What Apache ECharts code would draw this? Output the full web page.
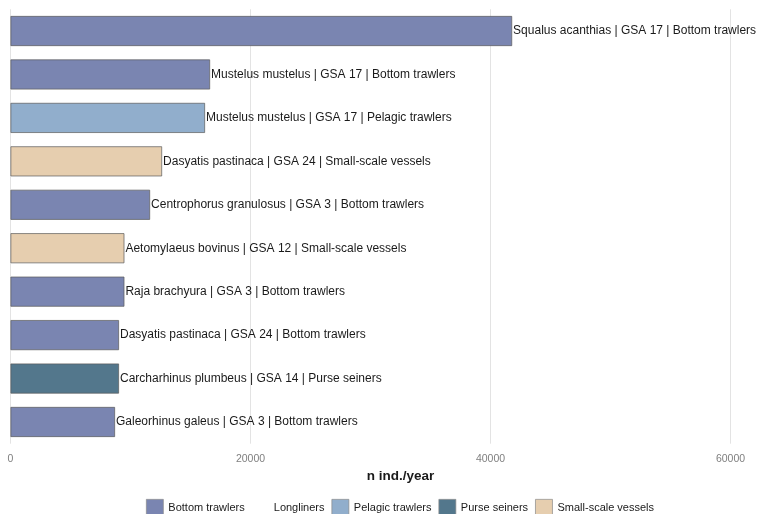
<!DOCTYPE html>
<html><head><meta charset="utf-8">
<script src="https://cdn.jsdelivr.net/npm/echarts@6/dist/echarts.min.js"></script>
<style>html,body{margin:0;padding:0;background:#fff}#c{width:759px;height:514px}</style>
</head><body><div id="c"></div>
<script>
const categories = [
  "Squalus acanthias | GSA 17 | Bottom trawlers",
  "Mustelus mustelus | GSA 17 | Bottom trawlers",
  "Mustelus mustelus | GSA 17 | Pelagic trawlers",
  "Dasyatis pastinaca | GSA 24 | Small-scale vessels",
  "Centrophorus granulosus | GSA 3 | Bottom trawlers",
  "Aetomylaeus bovinus | GSA 12 | Small-scale vessels",
  "Raja brachyura | GSA 3 | Bottom trawlers",
  "Dasyatis pastinaca | GSA 24 | Bottom trawlers",
  "Carcharhinus plumbeus | GSA 14 | Purse seiners",
  "Galeorhinus galeus | GSA 3 | Bottom trawlers"
];
const values = [41800, 16630, 16210, 12630, 11630, 9490, 9490, 9040, 9040, 8710];
const fleetOfBar = ["Bottom trawlers","Bottom trawlers","Pelagic trawlers","Small-scale vessels","Bottom trawlers","Small-scale vessels","Bottom trawlers","Bottom trawlers","Purse seiners","Bottom trawlers"];
const fleets = ["Bottom trawlers","Longliners","Pelagic trawlers","Purse seiners","Small-scale vessels"];
const fleetColors = ["#7A85B1","#FFFFFF","#91AECC","#53778C","#E6CEAF"];
const xTicks = [0, 20000, 40000, 60000];

const FONT = 'Liberation Sans, Arial, sans-serif';
const chart = echarts.init(document.getElementById('c'));
const series = fleets.map((f, i) => ({
  name: f,
  type: 'bar',
  stack: 'all',
  barWidth: 30,
  itemStyle: { color: fleetColors[i], borderColor: f === 'Longliners' ? 'rgba(0,0,0,0)' : '#5a5a5a', borderWidth: f === 'Longliners' ? 0 : 0.7 },
  label: {
    show: true, position: 'right', distance: 1,
    color: '#1a1a1a', fontSize: 12, fontFamily: FONT,
    formatter: p => p.name
  },
  data: values.map((v, j) => fleetOfBar[j] === f ? v : '-')
}));
chart.setOption({
  animation: false,
  grid: { left: 10.5, right: 4.5, top: 9.3, height: 434.4, containLabel: false },
  xAxis: {
    type: 'value', min: 0, max: 62000, interval: 20000,
    axisLine: { show: false }, axisTick: { show: false },
    splitLine: { show: true, lineStyle: { color: ['#e3e3e3', '#e3e3e3', '#e3e3e3', '#e3e3e3', 'rgba(0,0,0,0)'], width: 1 } },
    axisLabel: { color: '#7f7f7f', fontSize: 10.5, margin: 10, fontFamily: FONT,
      formatter: v => xTicks.includes(v) ? String(v) : '' },
    name: 'n ind./year', nameLocation: 'middle', nameGap: 20,
    nameTextStyle: { color: '#1a1a1a', fontSize: 13.5, fontWeight: 'bold', fontFamily: FONT, padding: [0, 0, 0, 36] }
  },
  yAxis: {
    type: 'category', data: categories, inverse: true,
    axisLine: { show: false }, axisTick: { show: false }, axisLabel: { show: false }, splitLine: { show: false }
  },
  legend: {
    data: fleets.map((f, i) => ({ name: f, icon: 'rect',
      itemStyle: f === 'Longliners' ? { color: 'rgba(0,0,0,0)', borderWidth: 0 } : { borderColor: '#8a8a8a', borderWidth: 0.7 } })),
    left: 141, top: 494, itemWidth: 17, itemHeight: 17, itemGap: 7,
    textStyle: { color: '#1a1a1a', fontSize: 11, fontFamily: FONT }
  },
  series: series
});
</script></body></html>
